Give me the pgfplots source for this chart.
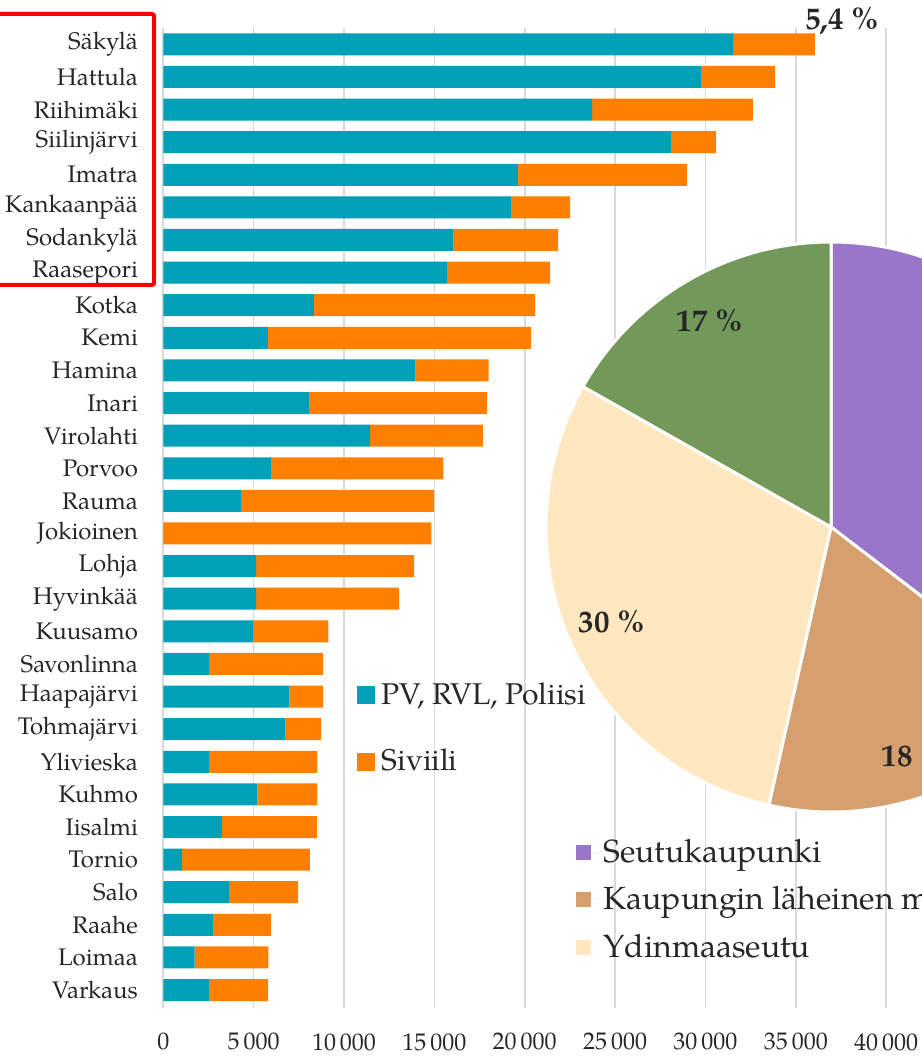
\documentclass[border=0pt]{standalone}
\usepackage{pgfplots}
\usepackage{pgfplotstable}
\pgfplotsset{compat=1.18}
\usepackage{fontspec}
\setmainfont{TeX Gyre Pagella}
\definecolor{pvc}{HTML}{00A0B8}
\definecolor{sivc}{HTML}{FF8000}
\definecolor{gridc}{HTML}{D9D9D9}
\definecolor{ppurple}{HTML}{9A76CB}
\definecolor{pbrown}{HTML}{D69F6E}
\definecolor{pcream}{HTML}{FFE7C0}
\definecolor{pgreen}{HTML}{72995A}
\definecolor{txt}{HTML}{262626}

\pgfplotstableread{
idx pv siv
0 2570 3230
1 1730 4080
2 2790 3180
3 3640 3820
4 1040 7070
5 3250 5250
6 5200 3320
7 2540 5980
8 6750 1990
9 6970 1880
10 2540 6310
11 4980 4150
12 5140 7910
13 5140 8740
14 0 14840
15 4310 10680
16 6000 9500
17 11440 6240
18 8050 9870
19 13950 4050
20 5780 14570
21 8330 12240
22 15730 5670
23 16060 5790
24 19270 3240
25 19620 9360
26 28100 2490
27 23730 8900
28 29760 4090
29 31530 4530
}\bardata

\begin{document}
\begin{tikzpicture}
\useasboundingbox (0,0) rectangle (461pt,528.5pt);
\clip (0,0) rectangle (461pt,528.5pt);
\begin{axis}[
  at={(81.65pt,24.5pt)}, anchor=south west,
  scale only axis, width=379.5pt, height=490pt,
  xbar stacked, bar width=11pt,
  xmin=0, xmax=42000, ymin=-0.55, ymax=29.5,
  axis line style={draw=none},
  major tick length=0pt,
  scaled x ticks=false,
  xmajorgrids, grid style={gridc, line width=0.8pt},
  xtick={0,5000,10000,15000,20000,25000,30000,35000,40000},
  xticklabels={0,5\,000,10\,000,15\,000,20\,000,25\,000,30\,000,35\,000,40\,000},
  xticklabel style={font=\fontsize{12}{14}\selectfont, text=txt, inner sep=0pt, anchor=north, yshift=-12.5pt},
  ytick={0,...,29},
  yticklabels={Varkaus,Loimaa,Raahe,Salo,Tornio,Iisalmi,Kuhmo,Ylivieska,Tohmajärvi,Haapajärvi,Savonlinna,Kuusamo,Hyvinkää,Lohja,Jokioinen,Rauma,Porvoo,Virolahti,Inari,Hamina,Kemi,Kotka,Raasepori,Sodankylä,Kankaanpää,Imatra,Siilinjärvi,Riihimäki,Hattula,Säkylä},
  yticklabel style={font=\fontsize{12}{14}\selectfont, text=txt, inner sep=0pt, anchor=east, xshift=-12.5pt},
  legend style={at={(axis cs:10680,9.57)}, anchor=north west, draw=none, fill=none, inner sep=0pt,
    font=\fontsize{15}{18}\selectfont, text=txt, row sep=17pt, cells={anchor=west}},
  legend image code/.code={\fill[#1] (0pt,-4.5pt) rectangle (9pt,4.5pt); \path (0pt,0pt) -- (10.5pt,0pt);},
]
\addplot[fill=pvc, draw=none] table[x=pv, y=idx]{\bardata};
\addplot[fill=sivc, draw=none] table[x=siv, y=idx]{\bardata};
\legend{{PV, RVL, Poliisi},Siviili}
\end{axis}

\begin{axis}[
  at={(415.5pt,265pt)}, anchor=center,
  scale only axis, width=285pt, height=285pt,
  xmin=-1, xmax=1, ymin=-1, ymax=1,
  hide axis, clip=false,
  legend style={at={(axis cs:-0.895,-1.081)}, anchor=north west, draw=none, fill=none, inner sep=0pt,
    font=\fontsize{16}{19}\selectfont, text=txt, row sep=6.5pt, cells={anchor=west}},
  legend image code/.code={\fill[#1] (0pt,-3.75pt) rectangle (7.5pt,3.75pt); \path (0pt,0pt) -- (11.5pt,0pt);},
]
\addlegendimage{fill=ppurple, draw=none}
\addlegendentry{Seutukaupunki}
\addlegendimage{fill=pbrown, draw=none}
\addlegendentry{Kaupungin läheinen maaseutu}
\addlegendimage{fill=pcream, draw=none}
\addlegendentry{Ydinmaaseutu}
\fill[ppurple, draw=white, line width=1.5pt] (axis cs:0,0) -- ++(90:142.5pt) arc[start angle=90, end angle=-37.44, radius=142.5pt] -- cycle;
\fill[pbrown, draw=white, line width=1.5pt] (axis cs:0,0) -- ++(-37.44:142.5pt) arc[start angle=-37.44, end angle=-102.6, radius=142.5pt] -- cycle;
\fill[pcream, draw=white, line width=1.5pt] (axis cs:0,0) -- ++(-102.6:142.5pt) arc[start angle=-102.6, end angle=-209.52, radius=142.5pt] -- cycle;
\fill[pgreen, draw=white, line width=1.5pt] (axis cs:0,0) -- ++(-209.52:142.5pt) arc[start angle=-209.52, end angle=-270, radius=142.5pt] -- cycle;
\node[font=\bfseries\fontsize{15.5}{18}\selectfont, text=txt] at (axis cs:-0.425,0.726) {17 \%};
\node[font=\bfseries\fontsize{15.5}{18}\selectfont, text=txt] at (axis cs:-0.768,-0.333) {30 \%};
\node[font=\bfseries\fontsize{15.5}{18}\selectfont, text=txt] at (axis cs:0.295,-0.804) {18 \%};
\node[font=\bfseries\fontsize{15.5}{18}\selectfont, text=txt] at (axis cs:0.039,1.775) {5,4 \%};
\end{axis}

\draw[red, line width=2pt, rounded corners=1pt] (-4pt,521.5pt) rectangle (77pt,386pt);
\end{tikzpicture}
\end{document}
